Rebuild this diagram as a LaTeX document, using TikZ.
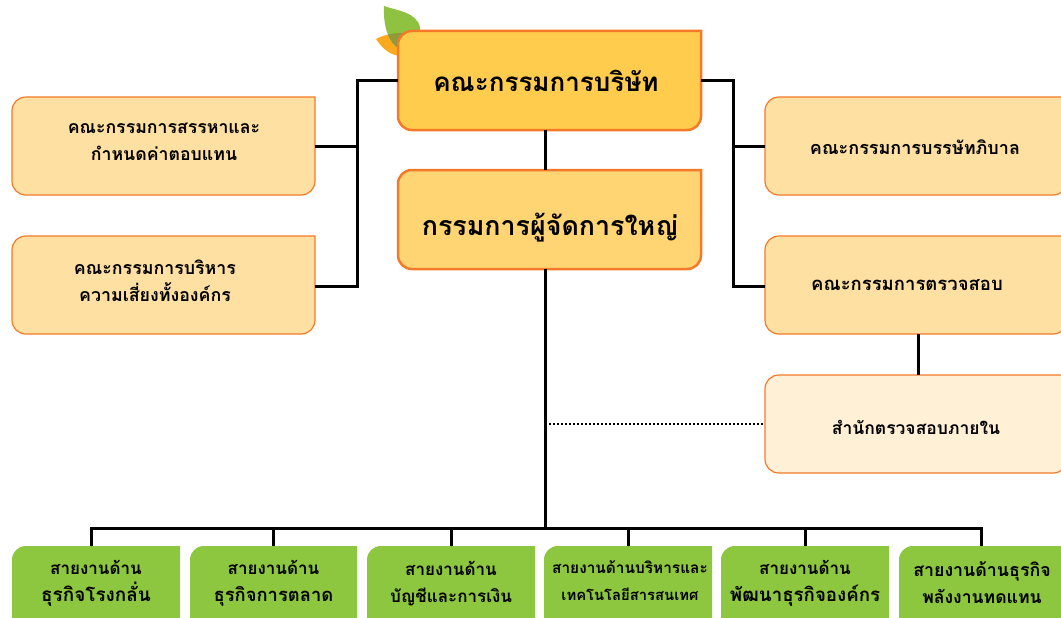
\documentclass[tikz,border=0pt]{standalone}
\usepackage{fontspec}
\newfontfamily\thaifont[Script=Thai]{Loma}
\definecolor{edgeorange}{HTML}{F47A2A}
\definecolor{boardfill}{HTML}{FFCC4E}
\definecolor{mgrfill}{HTML}{FFD573}
\definecolor{subfill}{HTML}{FFE0A3}
\definecolor{auditfill}{HTML}{FFF0D6}
\definecolor{greenfill}{HTML}{8DC63F}
\definecolor{leafgreen}{HTML}{8FC241}
\definecolor{leaforange}{HTML}{FBA91C}
\definecolor{leafmix}{HTML}{8F9A3D}
\newcommand{\fs}[1]{\fontsize{#1}{27}\selectfont}
\tikzset{
  x=1pt,y=-1pt,
  shapelarge/.style={draw=edgeorange,line width=2.5pt},
  shapesub/.style={draw=edgeorange,line width=1.2pt},
  shapegreen/.style={},
  txt/.style={inner sep=0pt,align=center,text=black,font=\thaifont\bfseries\fs{#1}},
  conn/.style={draw=black,line width=3pt,line cap=butt,line join=miter},
  dotline/.style={draw=black,line width=1.8pt,dash pattern=on 1.8pt off 2.2pt},
}
% #1 name, #2 x1, #3 y1, #4 x2, #5 y2, #6 shape style+fill
\newcommand{\orgbox}[6]{%
  \path[#6] (#4,#3) -- ({#4},{#5-14}) .. controls ({#4},{#5-6}) and ({#4-6},{#5}) .. ({#4-14},{#5})
     -- ({#2+14},{#5}) .. controls ({#2+6},{#5}) and ({#2},{#5-6}) .. ({#2},{#5-14})
     -- ({#2},{#3+14}) .. controls ({#2},{#3+6}) and ({#2+6},{#3}) .. ({#2+14},{#3}) -- cycle;
  \node[inner sep=0pt,minimum width=#4pt-#2pt,minimum height=#5pt-#3pt] (#1) at ({(#2+#4)/2},{(#3+#5)/2}) {};
}
\begin{document}
\begin{tikzpicture}
\useasboundingbox (0,0) rectangle (1061,618);
\clip (0,0) rectangle (1061,618);
% leaves
\fill[leaforange] (376,39) .. controls (384,35) and (392,33) .. (402,33) -- (402,56) .. controls (390,56) and (382,48) .. (376,39) -- cycle;
\fill[leafgreen] (384,6) .. controls (398,11) and (416,12) .. (420,27) -- (421,40) -- (398,48) .. controls (390,42) and (383,30) .. (384,6) -- cycle;
\begin{scope}
\clip (376,39) .. controls (384,35) and (392,33) .. (402,33) -- (402,56) .. controls (390,56) and (382,48) .. (376,39) -- cycle;
\fill[leafmix] (384,6) .. controls (398,11) and (416,12) .. (420,27) -- (421,40) -- (398,48) .. controls (390,42) and (383,30) .. (384,6) -- cycle;
\end{scope}
% connector anchors
\coordinate (busL) at (91,528);
\coordinate (busR) at (981,528);
\coordinate (leftX) at (357,80.5);
\coordinate (rightX) at (733,80.5);
\coordinate (trunk) at (545,424);
% boxes
\orgbox{board}{398}{31}{701}{130}{shapelarge,fill=boardfill}
\orgbox{mgr}{398}{170}{701}{269}{shapelarge,fill=mgrfill}
\orgbox{nom}{12}{97}{315}{195}{shapesub,fill=subfill}
\orgbox{risk}{12}{236}{315}{334}{shapesub,fill=subfill}
\orgbox{gov}{765}{97}{1067}{195}{shapesub,fill=subfill}
\orgbox{audit}{765}{236}{1067}{334}{shapesub,fill=subfill}
\orgbox{internal}{765}{375}{1067}{473}{shapesub,fill=auditfill}
\orgbox{g1}{12}{546}{180}{640}{shapegreen,fill=greenfill}
\orgbox{g2}{190}{546}{357}{640}{shapegreen,fill=greenfill}
\orgbox{g3}{367}{546}{535}{640}{shapegreen,fill=greenfill}
\orgbox{g4}{544}{546}{712}{640}{shapegreen,fill=greenfill}
\orgbox{g5}{721}{546}{889}{640}{shapegreen,fill=greenfill}
\orgbox{g6}{899}{546}{1067}{640}{shapegreen,fill=greenfill}
% labels
\node[txt=26] (tboard) at (546,80.5) {คณะกรรมการบริษัท};
\node[txt=26.8] (tmgr) at (550,228) {กรรมการผู้จัดการใหญ่};
\node[txt=17.7] (tnom) at (164,141.5) {คณะกรรมการสรรหาและ\\กำหนดค่าตอบแทน};
\node[txt=17.8] (trisk) at (155,281) {คณะกรรมการบริหาร\\ความเสี่ยงทั้งองค์กร};
\node[txt=18] (tgov) at (915,147.5) {คณะกรรมการบรรษัทภิบาล};
\node[txt=18.5,anchor=west] (taudit) at (811,285.5) {คณะกรรมการตรวจสอบ};
\node[txt=17.5] (tint) at (916,427.5) {สำนักตรวจสอบภายใน};
\node[txt=17] (t1) at (96,583.5) {สายงานด้าน\\\fs{18.9}ธุรกิจโรงกลั่น};
\node[txt=17] (t2) at (273.5,583.5) {สายงานด้าน\\\fs{18.4}ธุรกิจการตลาด};
\node[txt=17] (t3) at (451,583.5) {สายงานด้าน\\ บัญชีและการเงิน};
\node[txt=15.4] (t4) at (630,581) {สายงานด้านบริหารและ\\\fs{14.8}เทคโนโลยีสารสนเทศ};
\node[txt=17] (t5) at (805,583.5) {สายงานด้าน\\\fs{18.7}พัฒนาธุรกิจองค์กร};
\node[txt=17.8] (t6) at (982,583) {สายงานด้านธุรกิจ\\\fs{17.6}พลังงานทดแทน};
% connectors
\draw[conn] (board.west) -- (leftX) |- ([yshift=-1pt]risk.east);
\draw[conn] (nom.east) -- (nom.east -| leftX);
\draw[conn] (board.east) -- (rightX) |- ([yshift=-1pt]audit.west);
\draw[conn] (gov.west) -- (gov.west -| rightX);
\draw[conn] (trunk |- board.south) -- (trunk |- mgr.north);
\draw[conn] (trunk |- mgr.south) -- (trunk |- busL);
\draw[conn] ([xshift=2pt]audit.south) -- ([xshift=2pt]internal.north);
\draw[dotline] (trunk) -- (trunk -| internal.west);
\draw[conn,line cap=rect] (busL) -- (busR);
\draw[conn] (busL) -- (busL |- g1.north);
\draw[conn] (g2.north |- busL) -- (g2.north);
\draw[conn] (g3.north |- busL) -- (g3.north);
\draw[conn] (g4.north |- busL) -- (g4.north);
\draw[conn] (g5.north |- busL) -- (g5.north);
\draw[conn] (busR) -- (busR |- g6.north);
\end{tikzpicture}
\end{document}
